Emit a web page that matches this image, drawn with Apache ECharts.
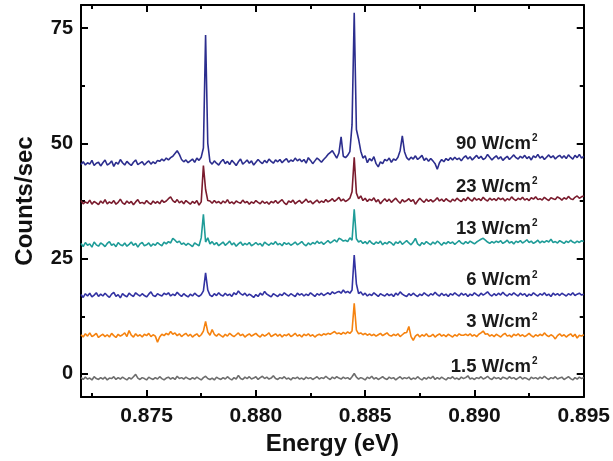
<!DOCTYPE html>
<html>
<head>
<meta charset="utf-8">
<script src="https://cdn.jsdelivr.net/npm/echarts@6/dist/echarts.min.js"></script>
<style>html,body{margin:0;padding:0;background:#fff;}#c{width:613px;height:461px;}</style>
</head>
<body>
<div id="c"></div>
<script>
var energies = [
0.8720,0.8721,0.8722,0.8723,0.8724,0.8725,0.8726,0.8727,0.8728,0.8729,
0.8730,0.8731,0.8732,0.8733,0.8734,0.8735,0.8736,0.8737,0.8738,0.8739,
0.8740,0.8741,0.8742,0.8743,0.8744,0.8745,0.8746,0.8747,0.8748,0.8749,
0.8750,0.8751,0.8752,0.8753,0.8754,0.8755,0.8756,0.8757,0.8758,0.8759,
0.8760,0.8761,0.8762,0.8763,0.8764,0.8765,0.8766,0.8767,0.8768,0.8769,
0.8770,0.8771,0.8772,0.8773,0.8774,0.8775,0.8776,0.8777,0.8778,0.8779,
0.8780,0.8781,0.8782,0.8783,0.8784,0.8785,0.8786,0.8787,0.8788,0.8789,
0.8790,0.8791,0.8792,0.8793,0.8794,0.8795,0.8796,0.8797,0.8798,0.8799,
0.8800,0.8801,0.8802,0.8803,0.8804,0.8805,0.8806,0.8807,0.8808,0.8809,
0.8810,0.8811,0.8812,0.8813,0.8814,0.8815,0.8816,0.8817,0.8818,0.8819,
0.8820,0.8821,0.8822,0.8823,0.8824,0.8825,0.8826,0.8827,0.8828,0.8829,
0.8830,0.8831,0.8832,0.8833,0.8834,0.8835,0.8836,0.8837,0.8838,0.8839,
0.8840,0.8841,0.8842,0.8843,0.8844,0.8845,0.8846,0.8847,0.8848,0.8849,
0.8850,0.8851,0.8852,0.8853,0.8854,0.8855,0.8856,0.8857,0.8858,0.8859,
0.8860,0.8861,0.8862,0.8863,0.8864,0.8865,0.8866,0.8867,0.8868,0.8869,
0.8870,0.8871,0.8872,0.8873,0.8874,0.8875,0.8876,0.8877,0.8878,0.8879,
0.8880,0.8881,0.8882,0.8883,0.8884,0.8885,0.8886,0.8887,0.8888,0.8889,
0.8890,0.8891,0.8892,0.8893,0.8894,0.8895,0.8896,0.8897,0.8898,0.8899,
0.8900,0.8901,0.8902,0.8903,0.8904,0.8905,0.8906,0.8907,0.8908,0.8909,
0.8910,0.8911,0.8912,0.8913,0.8914,0.8915,0.8916,0.8917,0.8918,0.8919,
0.8920,0.8921,0.8922,0.8923,0.8924,0.8925,0.8926,0.8927,0.8928,0.8929,
0.8930,0.8931,0.8932,0.8933,0.8934,0.8935,0.8936,0.8937,0.8938,0.8939,
0.8940,0.8941,0.8942,0.8943,0.8944,0.8945,0.8946,0.8947,0.8948,0.8949,
0.8950];

var counts90 = [
45.4,46.0,45.3,45.8,45.5,46.3,45.2,45.7,45.9,45.1,
45.8,46.4,45.3,45.6,46.2,45.0,45.9,45.5,46.5,45.8,
45.3,46.1,45.6,45.2,45.9,46.4,45.4,45.7,46.0,45.3,
45.8,46.2,45.5,46.0,45.6,46.3,46.1,46.6,46.2,46.8,
46.4,46.9,47.2,47.8,48.4,47.6,46.5,46.0,46.4,45.8,
46.2,46.6,45.9,46.8,46.3,47.0,49.0,73.5,50.0,46.0,
45.5,46.2,45.7,45.3,46.0,46.5,45.6,46.1,45.4,46.3,
45.8,45.2,46.0,46.6,45.5,45.9,46.4,45.7,46.2,45.3,
45.9,46.5,46.0,45.6,46.3,45.8,46.6,46.1,45.7,46.4,
46.0,46.5,45.8,46.3,46.7,45.9,46.4,46.1,46.8,46.2,
46.6,46.0,46.5,45.7,46.9,46.3,45.6,46.2,46.8,46.4,
45.9,46.5,47.0,47.6,48.0,48.4,47.6,46.8,47.9,51.4,
47.2,46.9,47.4,48.2,54.0,78.3,53.0,50.9,48.3,46.8,
47.3,45.8,46.7,46.2,47.1,45.6,44.9,46.0,45.6,46.5,
46.2,46.8,45.9,46.6,46.3,47.0,48.4,51.6,48.2,46.9,
46.4,47.0,46.6,47.3,46.5,46.9,47.4,46.3,46.8,46.1,
46.7,46.2,45.6,44.4,45.8,46.5,46.0,46.7,46.3,46.9,
46.4,47.0,46.5,46.8,46.2,46.9,47.3,46.6,47.1,46.4,
46.9,47.4,46.7,47.2,46.5,46.8,47.6,47.0,46.4,46.9,
47.3,46.6,47.1,46.3,46.8,47.2,46.5,47.0,47.5,46.9,
46.6,47.2,46.8,47.4,46.7,47.1,46.4,47.3,46.9,47.6,
46.8,47.2,46.5,47.0,47.5,46.9,47.3,46.6,47.1,47.4,
46.8,47.3,46.7,47.5,47.0,46.6,47.4,46.9,47.6,46.8,
47.2];

var counts23 = [
37.6,36.9,37.3,37.0,37.7,36.8,37.4,37.1,36.7,37.5,
37.0,37.8,36.9,37.3,37.0,37.6,36.8,37.2,37.9,37.1,
36.8,37.5,37.0,37.4,36.7,37.3,37.8,37.0,37.2,36.9,
37.6,37.1,36.8,37.5,37.0,37.4,36.9,37.7,37.2,37.5,
38.0,38.4,37.6,37.2,37.8,37.1,37.5,36.9,37.6,37.2,
36.8,37.4,37.0,37.6,36.6,37.3,45.2,40.0,37.6,37.5,
37.0,37.6,37.1,37.4,36.9,37.5,37.1,37.8,37.0,37.3,
36.9,37.5,37.2,37.0,37.7,37.1,37.4,36.8,37.3,37.0,
37.6,37.2,36.9,37.5,37.0,37.3,36.8,37.4,37.1,37.6,
37.0,37.4,37.8,37.1,36.7,37.5,37.2,37.7,36.9,37.3,
37.6,37.0,37.4,37.9,37.2,37.5,36.9,37.3,37.7,37.1,
37.5,37.2,37.8,37.3,37.6,38.0,37.4,37.8,38.3,37.5,
37.9,37.4,37.7,38.1,39.5,47.0,39.2,38.0,38.6,37.6,
38.1,37.4,37.9,37.6,38.2,37.3,37.8,36.9,37.5,38.0,
37.4,37.9,37.2,37.7,38.1,37.5,37.0,37.8,37.3,37.6,
38.0,37.4,37.8,36.8,37.5,38.1,37.6,37.2,37.9,37.4,
37.8,37.3,37.7,38.2,37.5,37.9,37.4,38.0,37.6,37.3,
37.9,37.5,38.1,37.7,37.4,38.0,37.6,38.3,37.8,37.5,
38.2,37.7,38.0,37.6,38.3,37.8,37.5,38.1,37.7,38.0,
37.6,38.2,37.8,38.1,37.5,38.0,37.7,38.4,37.9,37.6,
38.1,37.8,38.3,37.7,38.0,37.6,38.2,37.9,38.4,37.8,
38.0,37.7,38.3,37.9,37.6,38.2,38.0,37.8,38.4,38.1,
37.7,38.2,37.9,38.5,38.0,37.8,38.3,38.6,38.1,38.4,
38.6];

var counts13 = [
28.3,27.6,28.5,27.9,28.2,27.5,28.6,28.0,27.7,28.4,
28.1,27.6,28.3,28.7,27.9,28.2,27.6,28.5,28.0,27.8,
28.4,27.7,28.1,28.6,27.9,28.3,27.5,28.2,28.5,27.8,
28.0,28.4,27.7,28.2,27.9,28.5,28.1,27.8,28.6,28.2,
28.7,28.4,29.4,29.0,28.5,28.8,28.1,28.4,27.9,28.3,
28.0,27.6,28.4,28.1,27.8,29.5,34.6,28.6,29.5,28.2,
28.7,28.0,28.5,27.8,28.2,28.6,27.9,28.3,28.8,28.0,
28.4,27.7,28.2,28.6,27.9,28.3,28.0,28.5,27.8,28.1,
28.5,28.0,28.3,27.7,28.6,28.2,27.9,28.4,28.1,28.7,
28.0,28.3,27.8,28.5,28.1,28.4,27.9,28.2,28.6,28.0,
28.3,28.7,28.1,27.8,28.4,28.0,28.5,28.2,28.8,28.3,
28.6,28.1,28.5,28.9,28.4,28.7,29.1,28.6,29.4,29.2,
28.8,29.0,28.7,29.5,29.0,35.7,29.3,28.6,28.9,28.3,
28.7,28.2,28.9,28.4,28.1,28.6,28.3,28.8,28.0,28.5,
28.2,28.7,28.4,27.9,28.6,28.3,28.8,28.1,28.5,28.9,
28.4,28.0,28.6,29.4,28.2,27.8,28.5,28.1,28.7,28.3,
28.0,28.6,28.2,28.8,28.4,27.9,28.5,28.2,28.7,28.3,
28.6,28.1,28.5,28.9,28.4,28.2,28.7,28.3,28.8,28.5,
28.2,28.6,28.9,29.2,29.4,29.0,28.6,28.3,28.7,28.4,
28.8,28.5,28.9,28.3,28.6,29.0,28.4,28.7,28.2,28.8,
28.5,28.9,28.4,28.7,29.1,28.5,28.8,28.3,28.6,29.0,
28.4,28.8,28.5,28.9,28.6,29.2,28.5,28.7,28.4,28.9,
28.6,28.3,28.8,28.5,29.0,28.6,28.4,28.8,28.5,28.9,
28.7];

var counts6 = [
17.2,16.6,17.4,16.9,17.5,16.7,17.1,17.6,16.8,17.3,
16.9,17.5,17.0,16.6,17.3,17.7,16.8,17.2,16.5,17.4,
17.0,16.7,17.5,17.1,16.8,17.6,17.2,16.9,17.4,17.0,
16.7,17.3,17.8,17.0,16.8,17.4,17.1,16.9,17.5,17.2,
17.6,16.9,17.3,17.0,17.7,17.2,16.8,17.4,17.0,16.7,
17.3,16.9,17.5,17.1,16.8,17.2,18.0,21.9,18.2,17.1,
16.8,17.4,17.0,17.6,17.1,16.9,17.5,17.0,17.3,16.8,
17.6,17.2,18.0,17.4,17.1,17.5,16.9,17.3,17.0,16.6,
17.2,16.8,17.5,17.1,17.9,17.3,17.0,16.7,17.4,17.1,
16.8,17.3,17.0,17.6,17.2,16.9,17.4,17.1,16.8,17.5,
17.1,17.4,16.9,17.3,17.0,17.6,17.2,16.8,17.4,17.1,
17.5,17.0,17.3,17.6,17.2,17.8,17.4,17.7,17.9,17.5,
18.2,17.6,17.9,17.5,18.2,25.8,19.5,17.4,17.8,17.1,
17.5,16.9,17.3,17.0,17.6,17.2,16.8,17.4,17.1,16.9,
17.4,17.0,17.3,16.8,17.5,17.1,17.8,17.3,17.0,16.8,
17.4,17.0,17.5,17.1,16.8,17.3,17.0,17.6,17.2,16.9,
17.4,17.1,17.7,17.2,16.9,17.5,17.0,17.3,16.8,17.4,
17.1,17.6,17.2,16.9,17.5,17.1,17.4,16.8,17.3,17.0,
17.6,17.2,16.9,17.5,17.1,17.4,17.8,17.2,16.9,17.4,
17.0,17.5,17.1,17.7,17.2,16.9,17.4,17.1,17.6,17.2,
16.9,17.5,17.1,17.4,16.8,17.3,17.0,17.6,17.2,16.9,
17.4,17.1,17.6,17.0,17.3,16.8,17.5,17.1,17.4,17.0,
17.5,17.2,16.9,17.4,17.1,17.6,17.0,17.3,17.5,17.1,
17.3];

var counts3 = [
8.5,8.0,8.7,8.2,8.9,8.1,8.4,8.8,7.9,8.3,
8.6,8.1,8.5,8.0,8.8,8.3,7.9,8.6,8.2,8.5,
8.9,8.1,9.4,8.4,8.0,8.7,8.2,8.5,8.0,8.6,
8.3,8.8,8.1,8.5,8.2,6.9,8.0,8.6,8.3,8.8,
8.5,9.2,8.6,8.9,8.3,8.7,8.1,8.5,8.8,8.2,
8.6,8.0,8.4,8.7,8.1,8.5,9.3,11.4,9.1,8.4,
9.6,8.6,8.2,8.7,8.3,8.0,8.6,8.2,8.8,8.4,
8.1,8.5,8.9,8.3,8.6,8.0,8.4,8.7,8.2,8.5,
8.8,8.3,8.0,8.6,8.2,8.5,8.9,8.1,8.4,8.7,
8.2,8.6,8.0,8.5,8.3,8.7,8.1,8.4,8.8,8.2,
8.5,8.0,8.6,8.3,8.7,8.2,8.5,8.0,8.4,8.6,
8.3,8.7,8.5,8.8,8.6,8.9,9.2,8.7,8.9,8.6,
9.0,8.7,9.1,8.8,9.3,15.3,9.5,8.7,8.9,8.5,
8.8,8.4,8.7,8.3,8.6,8.2,8.5,8.8,8.3,8.6,
8.9,8.4,8.2,8.6,8.3,8.7,8.1,8.5,8.9,9.0,
10.3,8.1,7.3,8.2,8.6,8.0,8.5,8.2,8.7,8.1,
8.2,8.6,8.0,8.4,8.7,8.2,8.5,8.1,8.6,8.3,
8.0,8.5,8.2,8.7,8.4,8.4,8.6,8.3,8.7,8.2,
8.5,8.1,8.6,8.9,9.3,8.6,8.7,8.2,8.5,8.1,
8.6,8.3,8.0,8.5,8.8,8.2,8.4,8.0,8.6,8.3,
8.7,8.2,8.5,8.1,8.4,8.8,8.3,8.0,8.5,8.2,
8.6,8.3,8.9,8.4,8.1,8.5,8.2,7.6,8.3,8.7,
8.2,8.5,8.0,8.4,8.7,8.1,8.6,7.8,8.4,8.2,
8.5];

var counts1p5 = [
-0.8,-1.2,-0.7,-1.1,-0.9,-1.3,-0.6,-1.0,-1.2,-0.8,
-1.1,-0.7,-1.3,-0.9,-1.0,-0.6,-1.2,-0.8,-1.1,-0.7,
-1.0,-1.3,-0.8,-1.1,-0.6,-0.1,-0.9,-1.2,-0.8,-1.0,
-1.3,-0.7,-1.0,-1.2,-0.8,-1.1,-0.6,-1.0,-1.3,-0.9,
-0.7,-1.1,-0.8,-1.2,-0.5,-1.0,-0.8,-1.1,-0.7,-1.0,
-1.2,-0.8,-1.1,-0.7,-1.0,-1.3,-0.8,-0.5,-1.0,-1.2,
-0.9,-1.3,-0.7,-1.0,-1.2,-0.8,-1.1,-0.6,-1.0,-1.3,
-0.8,-1.1,-0.3,-1.0,-1.2,-0.7,-1.0,-0.6,-1.1,-0.9,
-0.6,-1.2,-0.8,-0.5,-1.0,-0.7,-1.1,-0.9,-0.4,-1.0,
-1.2,-0.8,-1.0,-0.6,-1.1,-0.9,-1.3,-0.8,-1.0,-0.7,
-1.1,-0.9,-1.2,-0.7,-1.0,-0.8,-1.2,-0.9,-0.6,-1.1,
-0.8,-1.0,-0.5,-0.9,-1.2,-0.7,-1.0,-0.6,-0.9,-1.1,
-0.7,-1.0,-0.8,-1.2,-0.6,0.1,-0.7,-1.1,-0.8,-1.0,
-1.3,-0.7,-1.0,-0.5,-1.1,-0.8,-1.2,-0.9,-0.6,-1.0,
-1.2,-0.7,-1.0,-0.8,-1.3,-0.9,-0.6,-1.1,-0.8,-1.0,
-0.7,-1.2,-0.9,-1.1,-0.6,-1.0,-1.3,-0.8,-1.1,-0.7,
-1.0,-0.5,-1.2,-0.8,-1.1,-0.7,-1.0,-1.3,-0.8,-1.0,
-0.6,-1.1,-0.9,-1.2,-0.7,-1.0,-0.8,-0.4,-1.1,-0.9,
-1.2,-0.8,-1.0,-0.6,-1.1,-0.9,-0.5,-1.0,-1.2,-0.7,
-1.0,-0.8,-1.2,-0.7,-0.9,-1.1,-0.6,-1.0,-0.8,-1.2,
-0.9,-0.6,-1.1,-0.8,-1.0,-1.3,-0.7,-1.0,-0.8,-1.1,
-0.7,-1.0,-0.5,-0.9,-1.2,-0.8,-1.0,-0.6,-1.1,-0.9,
-0.7,-1.2,-0.9,-0.6,-1.0,-1.3,-0.8,-1.1,-0.7,-1.0,
-0.8];

var seriesNames = ['90 W/cm', '23 W/cm', '13 W/cm', '6 W/cm', '3 W/cm', '1.5 W/cm'];
var seriesValues = [counts90, counts23, counts13, counts6, counts3, counts1p5];
var xMajorTicks = [0.875, 0.880, 0.885, 0.890, 0.895];
var xMinorTicks = [0.8725, 0.8775, 0.8825, 0.8875, 0.8925];
var yMajorTicks = [0, 25, 50, 75];
var yMinorTicks = [12.5, 37.5, 62.5];

var colors = ['#2c2e8e', '#7a1c2e', '#1f9c98', '#3232a2', '#f5820f', '#6e6e6e'];
var labelMidY = [143.5, 186.5, 228.5, 280, 322, 366.5];

var FONT = '"Liberation Sans", Arial, Helvetica, sans-serif';
var chart = echarts.init(document.getElementById('c'), null, {renderer: 'canvas'});

function pairs(vals) {
  return vals.map(function (v, i) { return [energies[i], v]; });
}

var XMIN = 0.872, XMAX = 0.895, YMIN = -5, YMAX = 80;
function xAx(pos, ticks, len, showLine, showLabel) {
  return {
    type: 'value', position: pos, min: XMIN, max: XMAX,
    axisLine: {show: showLine, onZero: false, lineStyle: {color: '#000', width: 2}},
    axisTick: {show: true, inside: true, length: len, customValues: ticks, lineStyle: {color: '#000', width: 2}},
    axisLabel: {show: showLabel, customValues: ticks, formatter: function (v) { return v.toFixed(3); },
      fontSize: 21, fontWeight: 'bold', color: '#111', fontFamily: FONT, margin: 9},
    splitLine: {show: false}
  };
}
function yAx(pos, ticks, len, showLine, showLabel) {
  return {
    type: 'value', position: pos, min: YMIN, max: YMAX,
    axisLine: {show: showLine, onZero: false, lineStyle: {color: '#000', width: 2}},
    axisTick: {show: true, inside: true, length: len, customValues: ticks, lineStyle: {color: '#000', width: 2}},
    axisLabel: {show: showLabel, customValues: ticks, fontSize: 20, fontWeight: 'bold', color: '#111', fontFamily: FONT, margin: 8},
    splitLine: {show: false}
  };
}

var xAxes = [
  xAx('bottom', xMajorTicks, 7, true, true),
  xAx('bottom', xMinorTicks, 4, false, false),
  xAx('top', xMajorTicks, 7, true, false),
  xAx('top', xMinorTicks, 4, false, false)
];
xAxes[0].name = 'Energy (eV)';
xAxes[0].nameLocation = 'middle';
xAxes[0].nameGap = 34;
xAxes[0].nameTextStyle = {fontSize: 24, fontWeight: 'bold', color: '#111', fontFamily: FONT};

var yAxes = [
  yAx('left', yMajorTicks, 7, true, true),
  yAx('left', yMinorTicks, 4, false, false),
  yAx('right', yMajorTicks, 7, true, false),
  yAx('right', yMinorTicks, 4, false, false)
];
yAxes[0].name = 'Counts/sec';
yAxes[0].nameLocation = 'middle';
yAxes[0].nameGap = 44;
yAxes[0].nameTextStyle = {fontSize: 24, fontWeight: 'bold', color: '#111', fontFamily: FONT};

var series = seriesValues.map(function (vals, k) {
  return {
    type: 'line', name: seriesNames[k], data: pairs(vals),
    xAxisIndex: 0, yAxisIndex: 0,
    showSymbol: false, symbol: 'none', smooth: false,
    lineStyle: {color: colors[k], width: 1.6},
    z: 10 - k
  };
}).reverse();

var graphics = [];
seriesNames.forEach(function (nm, k) {
  graphics.push({type: 'text', x: 531, y: labelMidY[k], z: 100,
    style: {text: nm, fill: '#1a1a1a', font: 'bold 18.5px ' + FONT, textAlign: 'right', textVerticalAlign: 'middle'}});
  graphics.push({type: 'text', x: 532, y: labelMidY[k] - 5, z: 100,
    style: {text: '2', fill: '#1a1a1a', font: 'bold 10px ' + FONT, textAlign: 'left', textVerticalAlign: 'middle'}});
});

chart.setOption({
  animation: false,
  backgroundColor: '#fff',
  grid: {left: 81, right: 29, top: 5, bottom: 64, containLabel: false},
  xAxis: xAxes,
  yAxis: yAxes,
  series: series,
  graphic: graphics
});
</script>
</body>
</html>
